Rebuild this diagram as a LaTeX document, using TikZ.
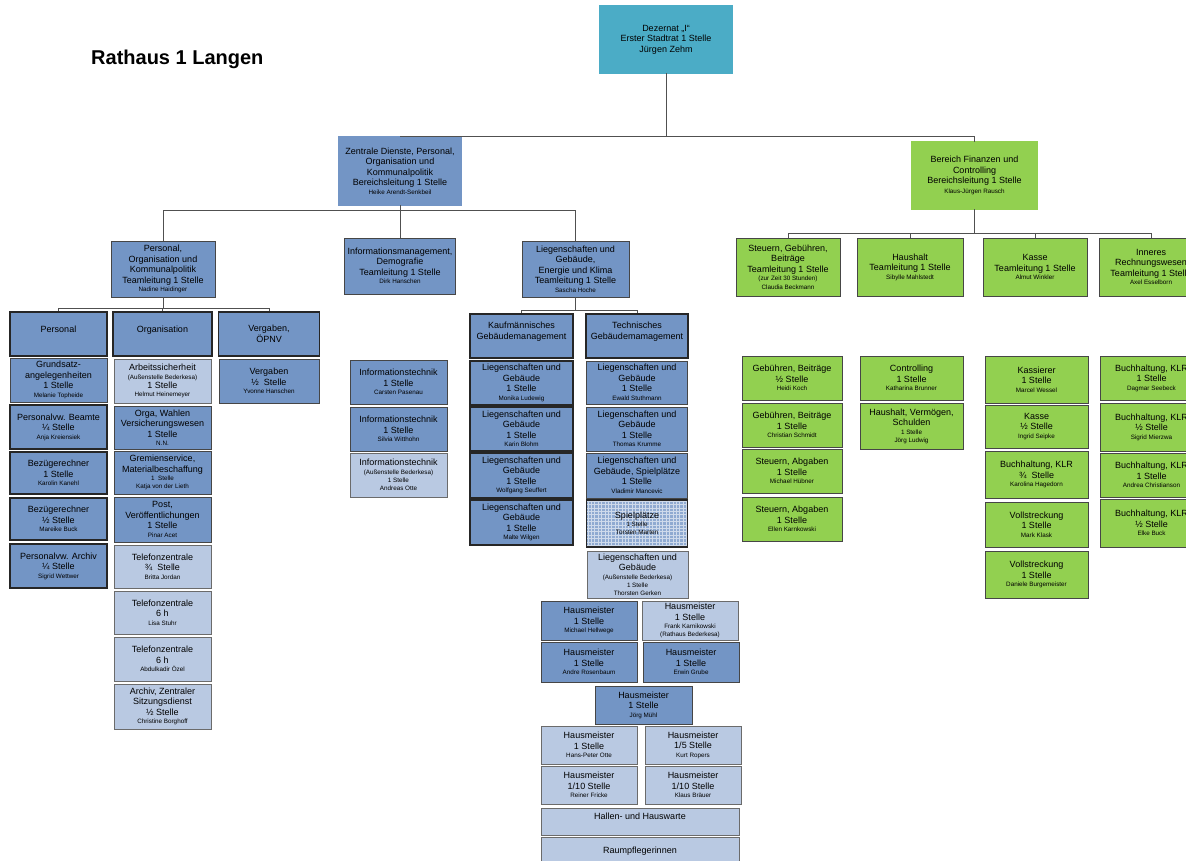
\documentclass[tikz,border=0pt]{standalone}
\usepackage{fontspec}
\setmainfont{Liberation Sans}
\usepackage{tikz}
\usetikzlibrary{positioning,calc}

\definecolor{dezteal}{RGB}{75,172,198}
\definecolor{midblue}{RGB}{115,149,197}
\definecolor{lightblue}{RGB}{185,201,226}
\definecolor{fingreen}{RGB}{146,208,80}
\definecolor{edgegray}{RGB}{70,70,70}
\definecolor{linegray}{RGB}{80,80,80}

\newcommand{\stdsz}{\fontsize{9}{10.5}\selectfont}
\newcommand{\smallsz}{\fontsize{6.3}{8}\selectfont}
% line of small text (names), set closer
\newcommand{\nmline}{\\[-2pt]\smallsz}

\begin{document}
\begin{tikzpicture}[x=1pt, y=-1pt,
    box/.style={draw=edgegray, line width=0.7pt, align=center, inner sep=1pt,
                minimum height=44pt, font=\stdsz},
    midbox/.style={box, fill=midblue},
    lightbox/.style={box, fill=lightblue, draw=edgegray!80},
    greenbox/.style={box, fill=fingreen},
    headbox/.style={midbox, draw=black!85, line width=1.3pt},
    boldbox/.style={midbox, draw=black!85, line width=1.1pt},
    topbox/.style={box, fill=#1, draw=black!70, double=#1, double distance=1.2pt, line width=0.7pt},
    spielbox/.style={boldbox, fill=midblue!80!white, path picture={
        \draw[white!65!midblue, line width=0.25pt, step=3.4pt]
          (path picture bounding box.south west) grid (path picture bounding box.north east);}},
    conn/.style={draw=linegray, line width=0.7pt}]
    \useasboundingbox (0,0) rectangle (1186,861);
    \clip (0,0) rectangle (1186,861);

    % title and top
    \node[anchor=west, inner sep=0pt, font=\bfseries\fontsize{20}{24}\selectfont] (title) at (91,59) {Rathaus 1 Langen};
    \node[topbox=dezteal, minimum width=132pt, minimum height=67pt] (dez) at (666,39.5)
        {Dezernat „I“\\Erster Stadtrat 1 Stelle\\Jürgen Zehm};
    \node[topbox=midblue, minimum width=122pt, minimum height=68pt] (zent) at (400,171)
        {Zentrale Dienste, Personal,\\Organisation und\\Kommunalpolitik\\Bereichsleitung 1 Stelle\nmline Heike Arendt-Senkbeil};
    \node[topbox=fingreen, minimum width=125pt, minimum height=67pt] (fin) at (974.5,175.5)
        {Bereich Finanzen und\\Controlling\\Bereichsleitung 1 Stelle\\[-0.5pt]\smallsz Klaus-Jürgen Rausch};

    % Teamleitungen
    \node[midbox, minimum width=104pt, minimum height=56pt] (persorg) at (163,269)
        {Personal,\\Organisation und\\Kommunalpolitik\\Teamleitung 1 Stelle\nmline Nadine Haidinger};
    \node[midbox, minimum width=111pt, minimum height=56pt] (infom) at (400,266)
        {Informationsmanagement,\\Demografie\\Teamleitung 1 Stelle\nmline Dirk Hanschen};
    \node[midbox, minimum width=107pt, minimum height=56pt] (liegen) at (575.5,269)
        {Liegenschaften und\\Gebäude,\\Energie und Klima\\Teamleitung 1 Stelle\nmline Sascha Hoche};
    \node[greenbox, minimum width=104pt, minimum height=58pt] (steuern) at (788,267)
        {Steuern, Gebühren,\\Beiträge\\Teamleitung 1 Stelle\nmline (zur Zeit 30 Stunden)\nmline Claudia Beckmann};
    \node[greenbox, minimum width=106pt, minimum height=58pt] (haush) at (910,267)
        {Haushalt\\Teamleitung 1 Stelle\nmline Sibylle Mahlstedt};
    \node[greenbox, minimum width=104pt, minimum height=58pt] (kasse) at (1035,267)
        {Kasse\\Teamleitung 1 Stelle\nmline Almut Winkler};
    \node[greenbox, minimum width=104pt, minimum height=58pt] (inneres) at (1151,267)
        {Inneres\\Rechnungswesen\\Teamleitung 1 Stelle\nmline Axel Esselborn};

    % Personal / Organisation / Vergaben
    \node[headbox, minimum width=97pt] (hpers) at (58.5,334) {Personal\\~};
    \node[headbox, minimum width=99pt] (horg) at (162.5,334) {Organisation\\~};
    \node[headbox, minimum width=101pt] (hverg) at (269,334) {Vergaben,\\ÖPNV};

    \node[midbox, minimum width=97pt] (pers1) at (58.5,380) {Grundsatz-\\angelegenheiten\\1 Stelle\nmline Melanie Topheide};
    \node[boldbox, minimum width=97pt] (pers2) at (58.5,427) {Personalvw. Beamte\\¼ Stelle\nmline Anja Kreiensiek};
    \node[boldbox, minimum width=97pt, minimum height=42pt] (pers3) at (58.5,473) {Bezügerechner\\1 Stelle\nmline Karolin Kanehl};
    \node[boldbox, minimum width=97pt, minimum height=42pt] (pers4) at (58.5,519) {Bezügerechner\\½ Stelle\nmline Mareike Buck};
    \node[boldbox, minimum width=97pt] (pers5) at (58.5,566) {Personalvw. Archiv\\¼ Stelle\nmline Sigrid Wettwer};

    \node[lightbox, minimum width=97pt] (org1) at (162.5,381) {Arbeitssicherheit\nmline (Außenstelle Bederkesa)\\[-1.5pt]\stdsz 1 Stelle\nmline Helmut Heinemeyer};
    \node[midbox, minimum width=97pt, minimum height=43pt] (org2) at (162.5,427.5) {Orga, Wahlen\\Versicherungswesen\\1 Stelle\nmline N.N.};
    \node[midbox, minimum width=97pt, minimum height=43pt] (org3) at (162.5,472.5) {Gremienservice,\\Materialbeschaffung\nmline 1~ Stelle\\[-2.5pt]\smallsz Katja von der Lieth};
    \node[midbox, minimum width=97pt, minimum height=45pt] (org4) at (162.5,519.5) {Post,\\Veröffentlichungen\\1 Stelle\nmline Pinar Acet};
    \node[lightbox, minimum width=97pt, minimum height=43pt] (org5) at (162.5,566.5) {Telefonzentrale\\¾~ Stelle\nmline Britta Jordan};
    \node[lightbox, minimum width=97pt, minimum height=43pt] (org6) at (162.5,612.5) {Telefonzentrale\\6 h\nmline Lisa Stuhr};
    \node[lightbox, minimum width=97pt] (org7) at (162.5,659) {Telefonzentrale\\6 h\nmline Abdulkadir Özel};
    \node[lightbox, minimum width=97pt, minimum height=45pt] (org8) at (162.5,706.5) {Archiv, Zentraler\\Sitzungsdienst\\½ Stelle\nmline Christine Borghoff};

    \node[midbox, minimum width=100pt] (verg1) at (269,381) {Vergaben\\½~ Stelle\nmline Yvonne Hanschen};

    % Informationstechnik
    \node[midbox, minimum width=97pt] (it1) at (398.5,382) {Informationstechnik\\1 Stelle\nmline Carsten Pasenau};
    \node[midbox, minimum width=97pt] (it2) at (398.5,429) {Informationstechnik\\1 Stelle\nmline Silvia Witthohn};
    \node[lightbox, minimum width=97pt] (it3) at (398.5,475) {Informationstechnik\nmline (Außenstelle Bederkesa)\\[-2.5pt]\smallsz 1 Stelle\\[-2.5pt]\smallsz Andreas Otte};

    % Gebaeudemanagement
    \node[headbox, minimum width=103pt] (hkauf) at (521.5,336) {Kaufmännisches\\Gebäudemanagement\\~};
    \node[headbox, minimum width=102pt] (htech) at (637,336) {Technisches\\Gebäudemamagement\\~};

    \node[boldbox, minimum width=103pt] (kauf1) at (521.5,383) {Liegenschaften und\\Gebäude\\1 Stelle\nmline Monika Ludewig};
    \node[boldbox, minimum width=103pt] (kauf2) at (521.5,429) {Liegenschaften und\\Gebäude\\1 Stelle\nmline Karin Blohm};
    \node[boldbox, minimum width=103pt, minimum height=45pt] (kauf3) at (521.5,475.5) {Liegenschaften und\\Gebäude\\1 Stelle\nmline Wolfgang Seuffert};
    \node[boldbox, minimum width=103pt, minimum height=45pt] (kauf4) at (521.5,522.5) {Liegenschaften und\\Gebäude\\1 Stelle\nmline Malte Wilgen};

    \node[midbox, minimum width=101pt, minimum height=43pt] (tech1) at (637,382.5) {Liegenschaften und\\Gebäude\\1 Stelle\nmline Ewald Stuthmann};
    \node[midbox, minimum width=101pt] (tech2) at (637,429) {Liegenschaften und\\Gebäude\\1 Stelle\nmline Thomas Krumme};
    \node[midbox, minimum width=101pt, minimum height=45pt] (tech3) at (637,475.5) {Liegenschaften und\\Gebäude, Spielplätze\\1 Stelle\nmline Vladimir Mancevic};
    \node[spielbox, minimum width=101pt, minimum height=47pt] (tech4) at (637,523.5) {Spielplätze\nmline 1 Stelle\\[-2.5pt]\smallsz Torsten Marten};
    \node[lightbox, minimum width=101pt, minimum height=47pt] (tech5) at (637.5,574.5) {Liegenschaften und\\Gebäude\nmline (Außenstelle Bederkesa)\\[-2.5pt]\smallsz 1 Stelle\\[-2.5pt]\smallsz Thorsten Gerken};

    % Hausmeister
    \node[midbox, minimum width=96pt, minimum height=39pt] (haus1) at (589,620.5) {Hausmeister\\1 Stelle\nmline Michael Hellwege};
    \node[lightbox, minimum width=96pt, minimum height=39pt] (haus2) at (690,620.5) {Hausmeister\\1 Stelle\nmline Frank Karnikowski\\[-2.5pt]\smallsz (Rathaus Bederkesa)};
    \node[midbox, minimum width=96pt, minimum height=40pt] (haus3) at (589,662) {Hausmeister\\1 Stelle\nmline Andre Rosenbaum};
    \node[midbox, minimum width=96pt, minimum height=40pt] (haus4) at (691,662) {Hausmeister\\1 Stelle\nmline Erwin Grube};
    \node[midbox, minimum width=97pt, minimum height=38pt] (haus5) at (643.5,705) {Hausmeister\\1 Stelle\nmline Jörg Mühl};
    \node[lightbox, minimum width=96pt, minimum height=38pt] (haus6) at (589,745) {Hausmeister\\1 Stelle\nmline Hans-Peter Otte};
    \node[lightbox, minimum width=96pt, minimum height=38pt] (haus7) at (693,745) {Hausmeister\\1/5 Stelle\nmline Kurt Ropers};
    \node[lightbox, minimum width=96pt, minimum height=38pt] (haus8) at (589,785) {Hausmeister\\1/10 Stelle\nmline Reiner Fricke};
    \node[lightbox, minimum width=96pt, minimum height=38pt] (haus9) at (693,785) {Hausmeister\\1/10 Stelle\nmline Klaus Bräuer};
    \node[lightbox, minimum width=198pt, minimum height=27pt] (hallen) at (640,821.5) {Hallen- und Hauswarte\\~};
    \node[lightbox, minimum width=198pt, minimum height=36pt] (raum) at (640,855) {Raumpflegerinnen\\~};

    % Finanzen
    \node[greenbox, minimum width=100pt] (fin1) at (792,378) {Gebühren, Beiträge\\½ Stelle\nmline Heidi Koch};
    \node[greenbox, minimum width=100pt] (fin2) at (792,425) {Gebühren, Beiträge\\1 Stelle\nmline Christian Schmidt};
    \node[greenbox, minimum width=100pt] (fin3) at (792,471) {Steuern, Abgaben\\1 Stelle\nmline Michael Hübner};
    \node[greenbox, minimum width=100pt] (fin4) at (792,519) {Steuern, Abgaben\\1 Stelle\nmline Ellen Karnkowski};

    \node[greenbox, minimum width=103pt] (fin5) at (911.5,378) {Controlling\\1 Stelle\nmline Katharina Brunner};
    \node[greenbox, minimum width=103pt, minimum height=46pt] (fin6) at (911.5,426) {Haushalt, Vermögen,\\Schulden\nmline 1 Stelle\\[-2.5pt]\smallsz Jörg Ludwig};

    \node[greenbox, minimum width=103pt, minimum height=47pt] (fin7) at (1036.5,379.5) {Kassierer\\1 Stelle\nmline Marcel Wessel};
    \node[greenbox, minimum width=103pt, minimum height=43pt] (fin8) at (1036.5,426.5) {Kasse\\½ Stelle\nmline Ingrid Seipke};
    \node[greenbox, minimum width=103pt, minimum height=47pt] (fin9) at (1036.5,474.5) {Buchhaltung, KLR\\¾~ Stelle\nmline Karolina Hagedorn};
    \node[greenbox, minimum width=103pt, minimum height=45pt] (fin10) at (1036.5,524.5) {Vollstreckung\\1 Stelle\nmline Mark Klask};
    \node[greenbox, minimum width=103pt, minimum height=47pt] (fin11) at (1036.5,574.5) {Vollstreckung\\1 Stelle\nmline Daniele Burgemeister};

    \node[greenbox, minimum width=103pt] (fin12) at (1151.5,378) {Buchhaltung, KLR\\1 Stelle\nmline Dagmar Seebeck};
    \node[greenbox, minimum width=103pt, minimum height=48pt] (fin13) at (1151.5,427) {Buchhaltung, KLR\\½ Stelle\nmline Sigrid Mierzwa};
    \node[greenbox, minimum width=103pt] (fin14) at (1151.5,475) {Buchhaltung, KLR\\1 Stelle\nmline Andrea Christianson};
    \node[greenbox, minimum width=103pt, minimum height=48pt] (fin15) at (1151.5,523) {Buchhaltung, KLR\\½ Stelle\nmline Elke Buck};

    % connectors
    \draw[conn] (dez.south) -- (dez.south |- zent.north);
    \draw[conn] (zent.north) -| (fin.north);
    \draw[conn] (zent.south) -- ++(0,5) coordinate (zbus);
    \draw[conn] (persorg.north) |- (zbus) -| (liegen.north);
    \draw[conn] (zbus) -- (infom.north);
    \draw[conn] (fin.south) -- ++(0,24) coordinate (fbus);
    \draw[conn] (steuern.north) |- (fbus) -| (inneres.north);
    \draw[conn] (haush.north) -- (haush.north |- fbus);
    \draw[conn] (kasse.north) -- (kasse.north |- fbus);
    \draw[conn] (persorg.south) -- ++(0,11) coordinate (pbus);
    \draw[conn] (hpers.north) |- (pbus) -| (hverg.north);
    \draw[conn] (horg.north) -- (horg.north |- pbus);
    \draw[conn] (liegen.south) -- ++(0,13) coordinate (lbus);
    \draw[conn] (hkauf.north) |- (lbus) -| (htech.north);
\end{tikzpicture}
\end{document}
